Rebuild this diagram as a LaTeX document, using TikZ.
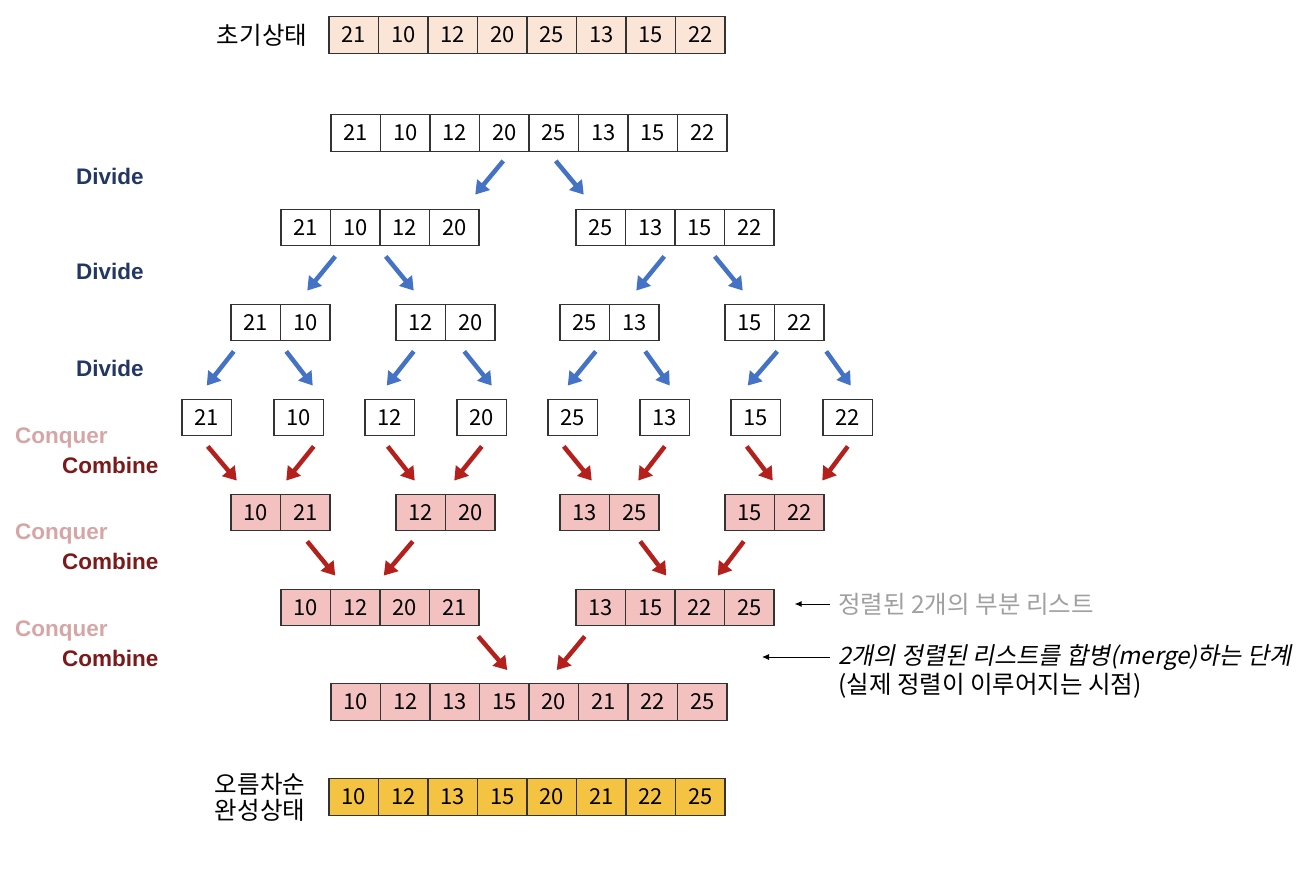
\documentclass[tikz,border=0pt]{standalone}
\usepackage{fontspec}
\setmainfont{Noto Sans CJK KR}
\newfontfamily\stepfont{Liberation Sans}
\newfontfamily\slantfont[FakeSlant=0.2]{Noto Sans CJK KR}
\usetikzlibrary{arrows.meta,positioning,calc}

\definecolor{initfill}{RGB}{251,229,214}
\definecolor{mergefill}{RGB}{244,193,193}
\definecolor{donefill}{RGB}{245,195,66}
\definecolor{divblue}{RGB}{68,114,196}
\definecolor{mrgred}{RGB}{180,33,28}
\definecolor{divtext}{RGB}{34,55,100}
\definecolor{conqtext}{RGB}{214,166,166}
\definecolor{combtext}{RGB}{122,26,26}
\definecolor{notegray}{RGB}{160,160,160}

\begin{document}
\begin{tikzpicture}[
  x=1pt, y=-1pt,
  cell/.style={draw=black!80, line width=1.3pt, minimum width=49.5pt, minimum height=36.5pt, inner sep=0pt, font=\fontsize{22}{24}\selectfont},
  initcell/.style={cell, fill=initfill},
  mergecell/.style={cell, fill=mergefill},
  donecell/.style={cell, fill=donefill},
  divarrow/.style={-{Triangle[length=13pt,width=16pt]}, line width=4.5pt, draw=divblue},
  mrgarrow/.style={divarrow, draw=mrgred},
  notearrow/.style={-{Latex[length=7pt,width=6pt]}, line width=0.9pt},
  label/.style={inner sep=0pt, font=\fontsize{24.5}{26}\selectfont},
  divlabel/.style={label, anchor=west, text=divtext, font=\stepfont\bfseries\fontsize{22.5}{24}\selectfont},
  conqlabel/.style={divlabel, text=conqtext},
  comblabel/.style={divlabel, text=combtext}
]
\useasboundingbox (0,0) rectangle (1312,872);

% initial and final lists
\foreach \v [count=\i] in {21,10,12,20,25,13,15,22}
  \node[initcell] (s\i) at ({353.75+49.5*(\i-1)},35) {\v};
\foreach \v [count=\i] in {10,12,13,15,20,21,22,25}
  \node[donecell] (h\i) at ({353.75+49.5*(\i-1)},797) {\v};
\node[label, left=21pt of s1] (initlabel) {초기상태};
\node[label, align=center, left=23pt of h1] (donelabel) {오름차순\\완성상태};

% divide
\foreach \v [count=\i] in {21,10,12,20,25,13,15,22}
  \node[cell] (a\i) at ({355.75+49.5*(\i-1)},133) {\v};
\foreach \v/\x [count=\i] in {21/305.75,10/355.25,12/404.75,20/454.25,25/600.75,13/650.25,15/699.75,22/749.25}
  \node[cell] (b\i) at (\x,227.5) {\v};
\foreach \v/\x [count=\i] in {21/255.75,10/305.25,12/420.75,20/470.25,25/584.75,13/634.25,15/749.75,22/799.25}
  \node[cell] (c\i) at (\x,322.5) {\v};
\foreach \v/\x [count=\i] in {21/206.75,10/298.75,12/389.75,20/481.75,25/572.75,13/664.75,15/755.75,22/847.75}
  \node[cell] (d\i) at (\x,417.5) {\v};

% conquer and combine
\foreach \v/\x [count=\i] in {10/255.75,21/305.25,12/420.75,20/470.25,13/584.75,25/634.25,15/749.75,22/799.25}
  \node[mergecell] (e\i) at (\x,512.5) {\v};
\foreach \v/\x [count=\i] in {10/305.75,12/355.25,20/404.75,21/454.25,13/600.75,15/650.25,22/699.75,25/749.25}
  \node[mergecell] (f\i) at (\x,607.5) {\v};
\foreach \v [count=\i] in {10,12,13,15,20,21,22,25}
  \node[mergecell] (g\i) at ({355.75+49.5*(\i-1)},702) {\v};

% step labels
\node[divlabel] (div1) at (76,176) {Divide};
\node[divlabel] (div2) at (76,271) {Divide};
\node[divlabel] (div3) at (76,368) {Divide};
\node[conqlabel] (conq1) at (15,438) {Conquer};
\node[comblabel] (comb1) at (62,465) {Combine};
\node[conqlabel] (conq2) at (15,534) {Conquer};
\node[comblabel] (comb2) at (62,561) {Combine};
\node[conqlabel] (conq3) at (15,631) {Conquer};
\node[comblabel] (comb3) at (62,658) {Combine};

% divide arrows
\draw[divarrow] ($(a4.south)+(-1,9)$) -- ($(b4.north)+(21,-14)$);
\draw[divarrow] ($(a5.south)+(2,9)$) -- ($(b5.north)+(-17,-14)$);
\draw[divarrow] ($(b2.south)+(-20,10)$) -- ($(c2.north)+(2,-13)$);
\draw[divarrow] ($(b3.south)+(-19,10)$) -- ($(c3.north)+(-7,-13)$);
\draw[divarrow] ($(b6.south)+(14,10)$) -- ($(c6.north)+(2,-13)$);
\draw[divarrow] ($(b7.south)+(15,10)$) -- ($(c7.north)+(-7,-13)$);
\draw[divarrow] ($(c1.south)+(-22,10)$) -- ($(d1.north)+(0,-13)$);
\draw[divarrow] ($(c2.south)+(-19,10)$) -- ($(d2.north)+(14,-13)$);
\draw[divarrow] ($(c3.south)+(-7,10)$) -- ($(d3.north)+(-3,-13)$);
\draw[divarrow] ($(c4.south)+(-6,10)$) -- ($(d4.north)+(10,-13)$);
\draw[divarrow] ($(c5.south)+(11,10)$) -- ($(d5.north)+(-5,-13)$);
\draw[divarrow] ($(c6.south)+(11,10)$) -- ($(d6.north)+(5,-13)$);
\draw[divarrow] ($(c8.south)+(-22,10)$) -- ($(d7.north)+(-8,-13)$);
\draw[divarrow] ($(c8.south)+(27,10)$) -- ($(d8.north)+(3,-13)$);

% merge arrows
\draw[mrgarrow] ($(d1.south)+(1,10)$) -- ($(e1.north)+(-19,-13)$);
\draw[mrgarrow] ($(d2.south)+(15,10)$) -- ($(e2.north)+(-19,-13)$);
\draw[mrgarrow] ($(d3.south)+(-2,10)$) -- ($(e3.north)+(-6,-13)$);
\draw[mrgarrow] ($(d4.south)+(0,10)$) -- ($(e4.north)+(-16,-13)$);
\draw[mrgarrow] ($(d5.south)+(-9,10)$) -- ($(e5.north)+(7,-13)$);
\draw[mrgarrow] ($(d6.south)+(0,10)$) -- ($(e6.north)+(4,-13)$);
\draw[mrgarrow] ($(d7.south)+(-9,10)$) -- ($(e7.north)+(23,-13)$);
\draw[mrgarrow] ($(d8.south)+(0,10)$) -- ($(e8.north)+(23,-13)$);
\draw[mrgarrow] ($(e2.south)+(2,10)$) -- ($(f2.north)+(-20,-13)$);
\draw[mrgarrow] ($(e3.south)+(-8,10)$) -- ($(f3.north)+(-21,-13)$);
\draw[mrgarrow] ($(e6.south)+(6,10)$) -- ($(f6.north)+(16,-13)$);
\draw[mrgarrow] ($(e7.south)+(-6,10)$) -- ($(f7.north)+(18,-13)$);
\draw[mrgarrow] ($(f4.south)+(24,10)$) -- ($(g4.north)+(3,-13)$);
\draw[mrgarrow] ($(f5.south)+(-16,10)$) -- ($(g5.north)+(3,-13)$);

% notes
\node[label, anchor=west, text=notegray] (note1) at (838,604) {정렬된 2개의 부분 리스트};
\node[label, anchor=west, font=\slantfont\fontsize{24}{26}\selectfont] (note2) at (838,657) {2개의 정렬된 리스트를 합병(merge)하는 단계};
\node[label, anchor=west] (note3) at (838,686) {(실제 정렬이 이루어지는 시점)};
\coordinate (mrgtip) at (762,657);
\draw[notearrow, shorten <=8pt, shorten >=20pt] (note1.west) -- (note1.west -| f8.east);
\draw[notearrow, shorten <=8pt] (note2.west) -- (mrgtip);

\end{tikzpicture}
\end{document}
